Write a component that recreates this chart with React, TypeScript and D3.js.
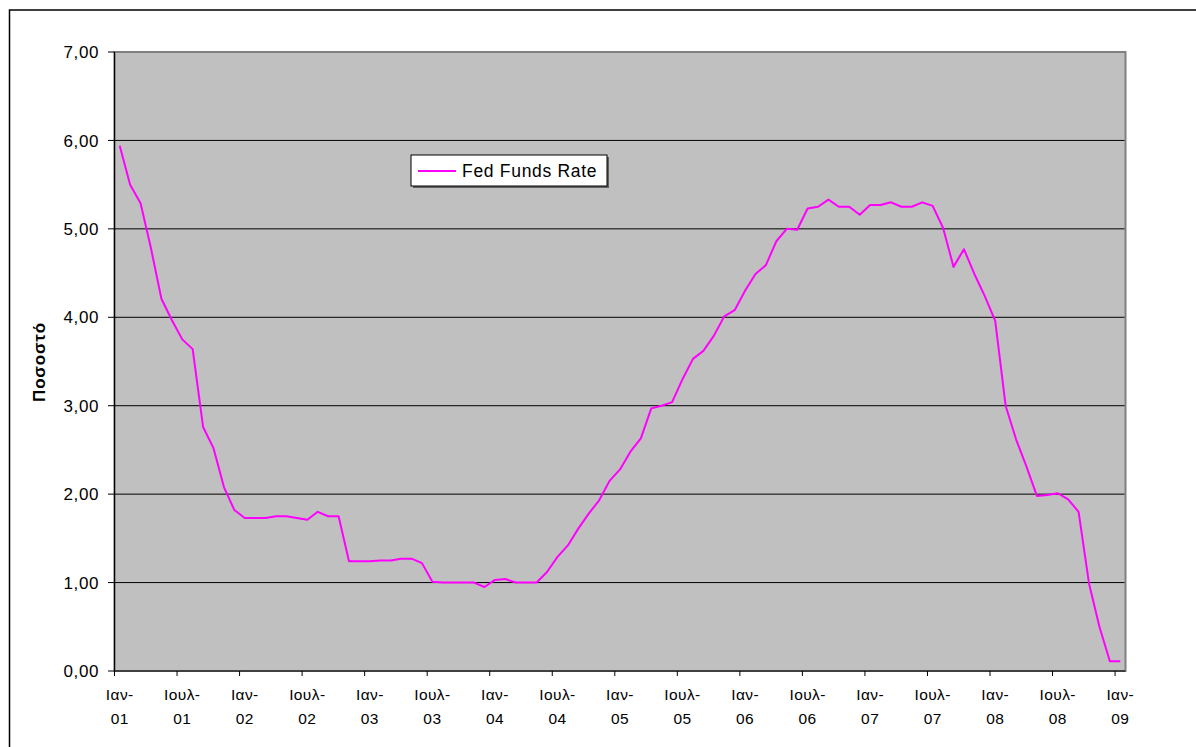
import React from "react";
import * as d3 from "d3";

const months: string[] = (() => {
  const out: string[] = [];
  for (let y = 2001; y <= 2009; y++) {
    for (let m = 0; m < 12; m++) {
      if (y === 2009 && m > 0) break;
      out.push(`${y}-${String(m + 1).padStart(2, "0")}`);
    }
  }
  return out;
})();

const fedFundsRate: number[] = [
  5.94, 5.5, 5.29, 4.78, 4.21, 3.97, 3.75, 3.64, 2.76, 2.52, 2.08, 1.82,
  1.73, 1.73, 1.73, 1.75, 1.75, 1.73, 1.71, 1.8, 1.75, 1.75, 1.24, 1.24,
  1.24, 1.25, 1.25, 1.27, 1.27, 1.22, 1.01, 1.0, 1.0, 1.0, 1.0, 0.95,
  1.03, 1.04, 1.0, 1.0, 1.0, 1.12, 1.29, 1.42, 1.61, 1.78, 1.93, 2.15,
  2.28, 2.48, 2.63, 2.97, 3.0, 3.04, 3.3, 3.53, 3.62, 3.79, 4.01, 4.08,
  4.3, 4.49, 4.59, 4.86, 5.0, 4.99, 5.23, 5.25, 5.33, 5.25, 5.25, 5.16,
  5.27, 5.27, 5.3, 5.25, 5.25, 5.3, 5.26, 5.01, 4.57, 4.77, 4.49, 4.24,
  3.96, 3.0, 2.62, 2.31, 1.98, 1.99, 2.01, 1.94, 1.8, 0.99, 0.5, 0.11,
  0.11,
];

const yTicks: number[] = [0, 1, 2, 3, 4, 5, 6, 7];
const monthNames: Record<string, string> = { "01": "Ιαν-", "07": "Ιουλ-" };
const seriesName = "Fed Funds Rate";
const yTitle = "Ποσοστό";

export default function App() {
  const W = 1196;
  const H = 747;
  const left = 114.5;
  const right = 1125.5;
  const top = 52;
  const bottom = 671;

  const x = d3.scaleBand<string>().domain(months).range([left, right]).paddingInner(0).paddingOuter(0);
  const y = d3.scaleLinear().domain([0, 7]).range([bottom, top]);
  const cx = (m: string) => (x(m) as number) + x.bandwidth() / 2;

  const line = d3
    .line<number>()
    .x((_, i) => cx(months[i]))
    .y((d) => y(d));

  const labeled = months.filter((_, i) => i % 6 === 0);
  const font = "'Liberation Sans', Arial, sans-serif";

  return (
    <svg
      width={W}
      height={H}
      style={{ position: "absolute", left: 0, top: 0, background: "#fff" }}
      fontFamily={font}
    >
      <rect x={9.5} y={10} width={1300} height={900} fill="#fff" stroke="#000" strokeWidth={1.5} />
      <rect x={left} y={top} width={right - left} height={bottom - top} fill="#C0C0C0" stroke="#808080" strokeWidth={2} />
      {yTicks.map((t) => (
        <g key={t}>
          {t > 0 && t < 7 && (
            <line x1={left} x2={right - 1} y1={y(t)} y2={y(t)} stroke="#000" strokeWidth={1} />
          )}
          <line x1={108} x2={left} y1={y(t)} y2={y(t)} stroke="#000" strokeWidth={1} />
          <text x={99} y={y(t)} dy="0.36em" textAnchor="end" fontSize={17} letterSpacing={0.6} fill="#000">
            {t.toFixed(2).replace(".", ",")}
          </text>
        </g>
      ))}
      <line x1={left} x2={left} y1={top} y2={bottom} stroke="#000" strokeWidth={1.2} />
      <line x1={left} x2={right} y1={bottom} y2={bottom} stroke="#000" strokeWidth={1.2} />
      {labeled.map((m) => {
        const [yr, mo] = m.split("-");
        const bx = x(m) as number;
        return (
          <g key={m}>
            <line x1={bx} x2={bx} y1={bottom} y2={bottom + 5} stroke="#000" strokeWidth={1} />
            <text x={cx(m)} y={700} textAnchor="middle" fontSize={15.5} letterSpacing={0.4} fill="#000">
              {monthNames[mo]}
            </text>
            <text x={cx(m)} y={724} textAnchor="middle" fontSize={15.5} letterSpacing={0.4} fill="#000">
              {yr.slice(2)}
            </text>
          </g>
        );
      })}
      <path d={line(fedFundsRate) ?? ""} fill="none" stroke="#FF00FF" strokeWidth={2} strokeLinejoin="round" />
      <text
        transform={`translate(45, 362) rotate(-90)`}
        textAnchor="middle"
        fontSize={17}
        fontWeight="bold"
        letterSpacing={0.8}
        fill="#000"
      >
        {yTitle}
      </text>
      <g>
        <rect x={413} y={157} width={196} height={31} fill="#606060" />
        <rect x={411} y={155} width={196} height={31} fill="#fff" stroke="#000" strokeWidth={1} />
        <line x1={418} x2={456} y1={171} y2={171} stroke="#FF00FF" strokeWidth={2} />
        <text x={462} y={177} fontSize={17.5} letterSpacing={0.7} fill="#000">
          {seriesName}
        </text>
      </g>
    </svg>
  );
}
